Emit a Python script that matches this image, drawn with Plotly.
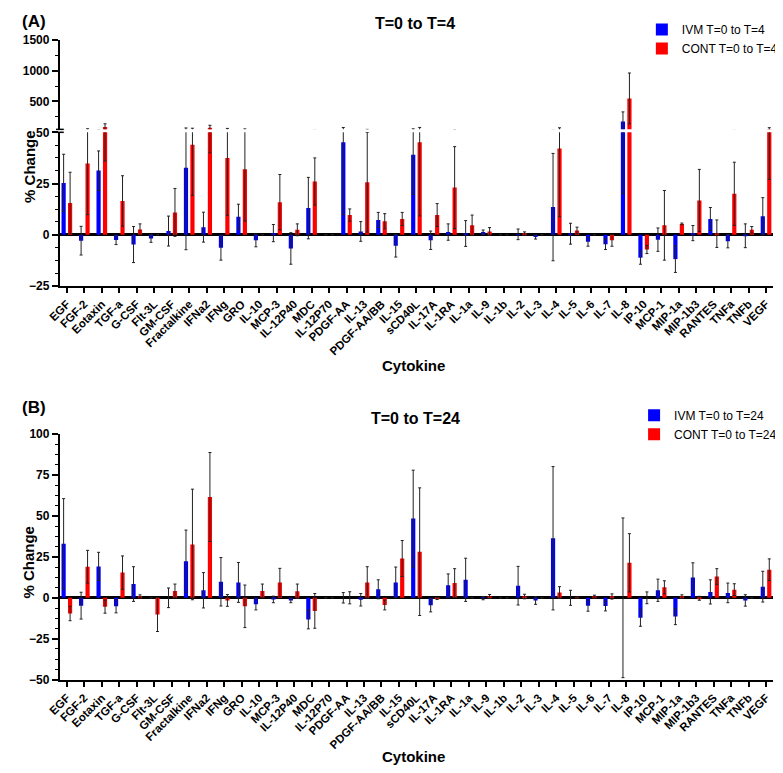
import plotly.graph_objects as go

# the page body keeps its 8px margin, so the figure is 8px smaller than the
# window and every position below is given in window pixels
W, H = 775, 765
OFF = 8

CYTOKINES = [
    "EGF", "FGF-2", "Eotaxin", "TGF-a", "G-CSF", "Flt-3L", "GM-CSF", "Fractalkine",
    "IFNa2", "IFNg", "GRO", "IL-10", "MCP-3", "IL-12P40", "MDC", "IL-12P70",
    "PDGF-AA", "IL-13", "PDGF-AA/BB", "IL-15", "sCD40L", "IL-17A", "IL-1RA", "IL-1a",
    "IL-9", "IL-1b", "IL-2", "IL-3", "IL-4", "IL-5", "IL-6", "IL-7", "IL-8", "IP-10",
    "MCP-1", "MIP-1a", "MIP-1b3", "RANTES", "TNFa", "TNFb", "VEGF",
]

# (A) T=0 to T=4
IVM_T4 = [25.3, -2.9, 31.3, -2.6, -4.8, -1.8, 1.8, 32.7, 3.7, -6.4, 8.8, -2.7, 0.8, -6.7,
          13.0, 0, 45.2, 1.6, 7.2, -5.4, 39.1, -2.7, 1.3, 0.6, 1.3, 0, 0.2, -1.1, 13.5,
          0.5, -3.4, -4.6, 176, -11.2, -2.4, -11.9, 0.8, 7.7, -3.2, -0.5, 9.0]
IVM_T4_ERR = [14, 7, 9.6, 2.2, 8.8, 1.9, 7.3, 40, 7.3, 6, 6.1, 3.2, 4.2, 7.7,
              15, 0, 35.4, 4.8, 3.7, 5.5, 19.4, 4.5, 4, 6.3, 1, 0, 2.6, 1, 26.2,
              5.1, 2.2, 2.6, 156, 3.2, 5.7, 6.5, 3.7, 5.6, 3.2, 5.8, 9.1]
CONT_T4 = [15.5, 34.8, 88, 16.5, 2.6, 0, 10.9, 43.9, 78, 37.5, 32, 0, 15.9, 2.4,
           26, 0, 9.6, 25.6, 6.6, 7.7, 45.2, 9.6, 23, 4.6, 1.6, 0, 0.6, 0, 42.1,
           2.1, 0, -2.7, 550, -7.2, 4.6, 5.3, 16.7, 0.5, 20, 2.4, 52]
CONT_T4_ERR = [15, 25, 52, 12.3, 2.7, 0, 11.7, 24.7, 38, 28, 25.3, 0, 13.5, 2.9,
               11.5, 0, 3, 24.3, 3.7, 3.2, 36, 5.6, 20, 5, 1.9, 0, 0.8, 0, 33.3,
               1.6, 0, 2.9, 410, 2, 17, 0.4, 15.2, 6.7, 15.4, 1.6, 25]

# (B) T=0 to T=24
IVM_T24 = [33, -4.8, 19.2, -5.2, 8.4, 0, 0, 22.4, 4.6, 9.8, 9.4, -4, -1, -1.6,
           -13.2, 0, 0, -1.2, 5.2, 9.4, 48.4, -4.6, 7.6, 11, -0.2, 0, 7.4, -1.6, 36.4,
           0, -4.8, -5, 0, -12.2, 4.6, -11.4, 12.4, 3.6, 3, -1.6, 6.8]
IVM_T24_ERR = [27.6, 8.2, 8.6, 4, 10.6, 0, 6, 19, 10.8, 14.8, 12.2, 3.4, 2, 1.4,
               5.8, 0, 3.2, 3.8, 5.8, 9.4, 29.6, 4, 7, 13.2, 1, 0, 11.8, 2.4, 43.8,
               4.6, 3.4, 3, 48.8, 5.2, 6.8, 5, 9, 7.4, 6, 3.5, 9.4]
CONT_T24 = [-9.6, 19, -5.4, 15.4, 1, -10.2, 4.2, 32.6, 61.6, -1.6, -5.2, 4.2, 9.4, 4,
            -8, 0, 0, 9.4, -4.4, 24, 28.2, -0.4, 9, 0, 0.8, 0, 0.8, 0, 3.2,
            0.2, 0.8, 0.8, 21.4, 0, 6.4, 0.8, -0.3, 13, 5, 0, 17.2]
CONT_T24_ERR = [4.4, 10, 4, 10.2, 0.8, 10.4, 4.2, 33.8, 27.2, 3.6, 13, 4.2, 8.6, 4.4,
                10.6, 0, 3.7, 9.6, 3, 11, 39, 0.6, 8.8, 0, 1.2, 0, 1.4, 0, 3.6,
                0.4, 0.8, 1.6, 17.8, 3.6, 4, 1, 1.2, 4.8, 3.6, 0, 6.6]

BLUE = "#0000FF"
RED = "#FF0000"
FONT = "Arial, Liberation Sans, sans-serif"


def px(x):
    return (x - OFF) / W


def py(y):
    return 1 - (y - OFF) / H


fig = go.Figure()


def add_bars(vals, errs, color, name, xa, ya, legend, show):
    offset = -0.305 if color == BLUE else 0.065
    fig.add_trace(go.Bar(
        x=CYTOKINES, y=vals, name=name, xaxis=xa, yaxis=ya,
        marker=dict(color=color, line_width=0), width=0.24, offset=offset,
        error_y=dict(type="data", array=errs, color="#222222", thickness=1, width=1.5),
        legend=legend, showlegend=show,
    ))


# panel A: lower and upper segment of the broken axis
add_bars(IVM_T4, IVM_T4_ERR, BLUE, "IVM T=0 to T=4", "x", "y", "legend", True)
add_bars(CONT_T4, CONT_T4_ERR, RED, "CONT T=0 to T=4", "x", "y", "legend", True)
add_bars(IVM_T4, IVM_T4_ERR, BLUE, "IVM T=0 to T=4", "x3", "y3", "legend", False)
add_bars(CONT_T4, CONT_T4_ERR, RED, "CONT T=0 to T=4", "x3", "y3", "legend", False)
# panel B
add_bars(IVM_T24, IVM_T24_ERR, BLUE, "IVM T=0 to T=24", "x2", "y2", "legend2", True)
add_bars(CONT_T24, CONT_T24_ERR, RED, "CONT T=0 to T=24", "x2", "y2", "legend2", True)

XDOM = [px(48), px(782)]
tick_font = dict(family=FONT, size=12, color="black", weight="bold")
xtick_font = dict(family=FONT, size=11.5, color="black", weight="bold")

xaxis_common = dict(
    domain=XDOM, type="category", range=[-0.4, 40.4],
    tickmode="array", tickvals=CYTOKINES, ticktext=CYTOKINES,
    showline=True, linecolor="black", linewidth=2,
    ticks="outside", ticklen=5, tickwidth=1.5, tickcolor="black",
    tickangle=-45, tickfont=xtick_font, showgrid=False, zeroline=False,
)
yaxis_common = dict(
    showline=True, linecolor="black", linewidth=2,
    ticks="outside", ticklen=6, tickwidth=1.5, tickcolor="black",
    tickfont=tick_font, showgrid=False,
    zeroline=True, zerolinecolor="black", zerolinewidth=2.5,
    minor=dict(ticks="outside", ticklen=3, tickwidth=1.2, tickcolor="black", dtick=6.25),
)

fig.update_layout(
    width=W, height=H,
    margin=dict(l=0, r=0, t=0, b=0),
    paper_bgcolor="white", plot_bgcolor="white",
    font=dict(family=FONT, color="black"),
    barmode="overlay",
    xaxis=dict(xaxis_common, anchor="y"),
    yaxis=dict(yaxis_common, domain=[py(284), py(127.5)], anchor="x",
               range=[-25, 50], tickvals=[-25, 0, 25, 50]),
    xaxis3=dict(domain=XDOM, type="category", range=[-0.4, 40.4], anchor="y3",
                matches="x", visible=False),
    yaxis3=dict(yaxis_common, domain=[py(124.5), py(33)], anchor="x3",
                range=[50, 1500], tickvals=[500, 1000, 1500], zeroline=False,
                minor=dict(ticks="outside", ticklen=3, tickwidth=1.2,
                           tickcolor="black", dtick=250)),
    xaxis2=dict(xaxis_common, anchor="y2"),
    yaxis2=dict(yaxis_common, domain=[py(685), py(435)], anchor="x2",
                range=[-50, 100], tickvals=[-50, -25, 0, 25, 50, 75, 100]),
    legend=dict(x=px(647), y=py(8), xanchor="left", yanchor="top",
                font=dict(family=FONT, size=12, color="black"),
                bgcolor="rgba(0,0,0,0)", tracegroupgap=0),
    legend2=dict(x=px(639), y=py(401), xanchor="left", yanchor="top",
                 font=dict(family=FONT, size=12, color="black"),
                 bgcolor="rgba(0,0,0,0)", tracegroupgap=0),
)

bold = dict(family=FONT, color="black", weight="bold")
labels = [
    ("(A)", 21, 15, 17, 0),
    ("T=0 to T=4", 413, 17, 16, 0),
    ("Cytokine", 412, 365, 15, 0),
    ("% Change", 16, 162, 15, -90),
    ("(B)", 21, 408, 17, 0),
    ("T=0 to T=24", 414, 419, 16, 0),
    ("Cytokine", 412, 763, 15, 0),
    ("% Change", 16, 565, 15, -90),
]
for text, x, y, size, angle in labels:
    fig.add_annotation(text=text, x=px(x), y=py(y), xref="paper", yref="paper",
                       showarrow=False, textangle=angle, font=dict(bold, size=size),
                       xanchor="center", yanchor="middle")

# axis break marks
for yb in (124.5, 127.5):
    fig.add_shape(type="line", xref="paper", yref="paper",
                  x0=px(44), x1=px(52), y0=py(yb), y1=py(yb),
                  line=dict(color="black", width=1.5))

fig.write_html("out.html")
